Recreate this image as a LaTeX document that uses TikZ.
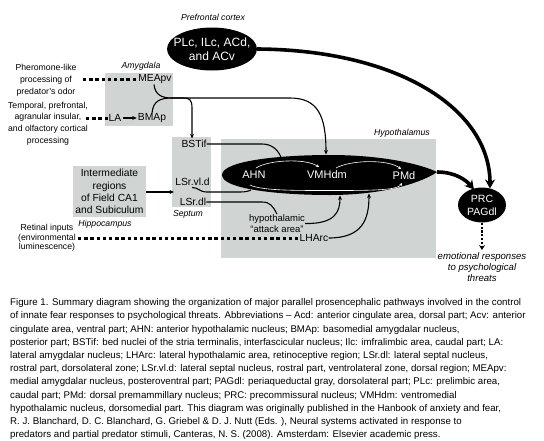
\documentclass[tikz,border=0pt]{standalone}
\usepackage{fontspec}
\setmainfont{Liberation Sans}
\usetikzlibrary{arrows.meta,shapes.geometric}
\definecolor{boxgray}{RGB}{208,213,211}
\begin{document}
\begin{tikzpicture}[x=1pt,y=-1pt,
  region/.style={fill=boxgray, draw=none, inner sep=0pt, anchor=north west},
  lbl/.style={inner sep=0pt, font=\fontsize{10.3}{12.3}\selectfont},
  side/.style={inner sep=0pt, align=center, font=\fontsize{8.7}{12}\selectfont},
  area/.style={inner sep=0pt, font=\fontsize{8.7}{10}\selectfont\itshape},
  wlbl/.style={inner sep=0pt, text=white, font=\fontsize{11}{13}\selectfont},
  conn/.style={draw=black, line width=1.1pt},
  arr/.style={conn, -{Stealth[length=4.5pt,width=4pt]}},
  dashline/.style={draw=black, line width=3pt, dash pattern=on 3.4pt off 2.8pt},
  warr/.style={draw=white, line width=0.6pt, -{Stealth[length=3pt,width=3pt]}},
  bigarr/.style={draw=black, line width=3.6pt, -{Stealth[length=9pt,width=10pt]}},
  dotarr/.style={draw=black, line width=2.8pt, dash pattern=on 2.2pt off 1.6pt, -{Stealth[length=5pt,width=6pt]}},
  blob/.style={ellipse, fill=black, inner sep=0pt},
]
\useasboundingbox (0,0) rectangle (544,440);
\fill[white] (0,0) rectangle (544,440);

% ---------- gray regions ----------
\node[region, minimum width=68pt, minimum height=53pt] (amyg) at (105,73) {};
\node[region, minimum width=39pt, minimum height=70pt] (sept) at (172,137) {};
\node[region, minimum width=215pt, minimum height=119pt] (hypo) at (221,139) {};
\node[region, anchor=center, minimum width=73pt, minimum height=51pt, align=center,
      font=\fontsize{10.3}{12.3}\selectfont] (hippo) at (109.5,191.5)
      {Intermediate\\regions\\of Field CA1\\and Subiculum};

% ---------- region labels ----------
\node[area] (pfclbl) at (213,17) {Prefrontal cortex};
\node[area] (amyglbl) at (141,66) {Amygdala};
\node[area] (septlbl) at (188,214) {Septum};
\node[area] (hippolbl) at (105,224) {Hippocampus};
\node[area] (hypolbl) at (402,133) {Hypothalamus};

% ---------- prefrontal ellipse ----------
\node[blob, minimum width=90pt, minimum height=43pt] (pfc) at (212,49) {};
\node[wlbl, align=center, font=\fontsize{12}{14}\selectfont] (pfctext) at (pfc.center) {PLc, ILc, ACd,\\and ACv};

% ---------- amygdala ----------
\node[lbl] (MEApv) at (155,79) {MEApv};
\node[lbl] (LA) at (115,118) {LA};
\node[lbl] (BMAp) at (152,118) {BMAp};

% ---------- side inputs ----------
\node[side] (pher) at (46,80) {Pheromone-like\\processing of\\predator's odor};
\node[side, font=\fontsize{8.7}{11.7}\selectfont] (temp) at (48,123.5) {Temporal, prefrontal,\\agranular insular,\\and olfactory cortical\\processing};
\node[side, font=\fontsize{8.7}{9.5}\selectfont] (retina) at (47,238) {Retinal inputs\\(environmental\\luminescence)};

% ---------- septum ----------
\node[lbl] (BSTif) at (194,144) {BSTif};
\node[lbl] (LSrvld) at (192.5,182) {LSr.vl.d};
\node[lbl] (LSrdl) at (193,202) {LSr.dl};

% ---------- hypothalamus ----------
\fill[black] (222,175) .. controls (222,161) and (278,155) .. (330,155)
  .. controls (385,155) and (423,165) .. (437,172)
  .. controls (423,182) and (385,195) .. (330,195)
  .. controls (278,195) and (222,189) .. (222,175);
\node[wlbl] (AHN) at (254,175) {AHN};
\node[wlbl] (VMHdm) at (327,175) {VMHdm};
\node[wlbl] (PMd) at (404,175.5) {PMd};
\node[lbl, align=center, font=\fontsize{9.5}{11.2}\selectfont] (attack) at (277,223.5) {hypothalamic\\``attack area''};
\node[lbl] (LHArc) at (314,238) {LHArc};

\coordinate (ahntop) at (281,157);
\coordinate (ahnbot) at (251,190);
\coordinate (vmtop) at (326,154.5);
\coordinate (vmbot) at (340,195.5);
\coordinate (pmbot) at (369,193.5);
\coordinate (pmtip) at (437,172);
\coordinate (J) at (172,98);
\coordinate (lsin) at (174,192);

% ---------- PRC / PAGdl ----------
\node[blob, minimum width=48pt, minimum height=35pt, align=center, text=white,
      font=\fontsize{10.5}{13}\selectfont] (PRC) at (482,205) {PRC\\PAGdl};
\coordinate (prctop) at (490,188.5);
\coordinate (prcleft) at (474,189.5);
\node[lbl, align=center, font=\fontsize{9.6}{11}\selectfont\itshape] (emo) at (482,267)
  {emotional responses\\to psychological\\threats};

% ---------- connectors ----------
\coordinate (pherend) at (83,79);
\draw[dashline] (pherend) -- (MEApv.west);
\coordinate (tempend) at (86,118);
\draw[dashline] (tempend) -- (LA.west);
\draw[arr, shorten >=1pt, shorten <=1.5pt] (LA.east) -- (BMAp.west);

\draw[conn] (154,84.5) .. controls (155,95) and (162,98) .. (J);
\draw[conn] (BMAp.north) .. controls (153,101) and (160,98) .. (J);
\draw[arr] (J) -- (290,98) .. controls (318,98) and (326,116) .. (vmtop);
\draw[arr] (J) -- (183,98) .. controls (190,98) and (192,100) .. (192,108) -- (192,138.5);

\draw[conn] (BSTif.east) -- (262,144) .. controls (272,144) and (278,150) .. (ahntop);
\draw[arr] (hippo.east |- lsin) -- (lsin);
\draw[conn] (192,187.5) .. controls (199,187.5) and (199,192) .. (207,192) -- (240,192)
  .. controls (246,192) and (249,191) .. (ahnbot);
\draw[conn] (LSrdl.east) -- (262,202) .. controls (270,202) and (273,206) .. (attack.north);
\draw[arr] (attack.east) .. controls (335,224) and (340,212) .. (vmbot);
\draw[arr] (LHArc.east) .. controls (362,238) and (369,220) .. (pmbot);
\draw[dashline] ([xshift=2pt]retina.east) -- (LHArc.west);

% white internal arrows
\draw[warr] (256,168) .. controls (268,160) and (305,158) .. (319,167);
\draw[warr] (336,168) .. controls (350,160) and (388,159) .. (401,169);
\draw[warr] (250,185) .. controls (262,191) and (300,190.5) .. (340,190.5)
  .. controls (385,190.5) and (398,189) .. (402,183);

% thick outputs
\draw[bigarr] (pfc.east) .. controls (400,50) and (490,110) .. (prctop);
\draw[bigarr] (pmtip) .. controls (455,172) and (466,180) .. (prcleft);
\draw[dotarr] (PRC.south) -- (482,250);

% ---------- caption ----------
\node[anchor=north west, inner sep=0pt, align=left, font=\fontsize{9.7}{13.2}\selectfont] (caption) at (10,298.5)
{Figure 1. Summary diagram showing the organization of major parallel prosencephalic pathways involved in the control\\
of innate fear responses to psychological threats. Abbreviations – Acd: anterior cingulate area, dorsal part; Acv: anterior\\
cingulate area, ventral part; AHN: anterior hypothalamic nucleus; BMAp: basomedial amygdalar nucleus,\\
posterior part; BSTif: bed nuclei of the stria terminalis, interfascicular nucleus; Ilc: imfralimbic area, caudal part; LA:\\
lateral amygdalar nucleus; LHArc: lateral hypothalamic area, retinoceptive region; LSr.dl: lateral septal nucleus,\\
rostral part, dorsolateral zone; LSr.vl.d: lateral septal nucleus, rostral part, ventrolateral zone, dorsal region; MEApv:\\
medial amygdalar nucleus, posteroventral part; PAGdl: periaqueductal gray, dorsolateral part; PLc: prelimbic area,\\
caudal part; PMd: dorsal premammillary nucleus; PRC: precommissural nucleus; VMHdm: ventromedial\\
hypothalamic nucleus, dorsomedial part. This diagram was originally published in the Hanbook of anxiety and fear,\\
R. J. Blanchard, D. C. Blanchard, G. Griebel \& D. J. Nutt (Eds. ), Neural systems activated in response to\\
predators and partial predator stimuli, Canteras, N. S. (2008). Amsterdam: Elsevier academic press.};
\end{tikzpicture}
\end{document}
